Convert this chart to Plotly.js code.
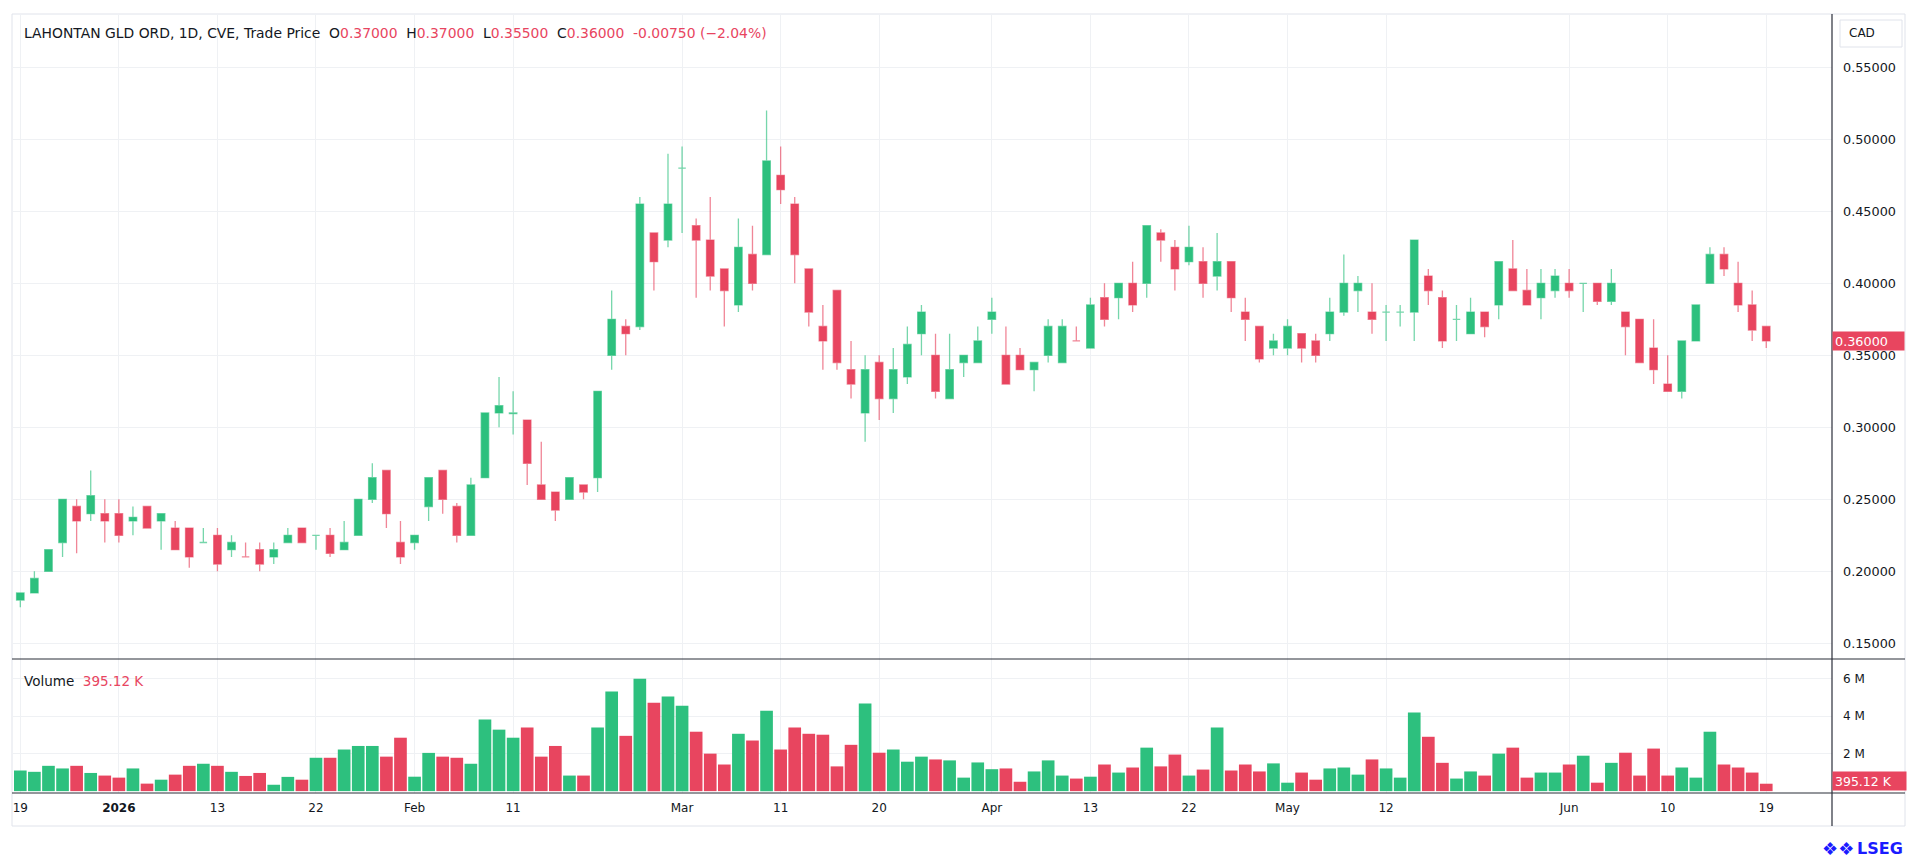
<!DOCTYPE html>
<html><head><meta charset="utf-8">
<script src="https://cdn.plot.ly/plotly-3.0.1.min.js"></script>
<style>html,body{margin:0;padding:0;background:#fff;overflow:hidden}#chart{width:1920px;height:865px}</style>
</head><body><div id="chart"></div>
<script>
const dates = [
 '2025-12-19','2025-12-22','2025-12-23','2025-12-24','2025-12-29','2025-12-30','2025-12-31',
 '2026-01-02','2026-01-05','2026-01-06','2026-01-07','2026-01-08','2026-01-09','2026-01-12','2026-01-13','2026-01-14','2026-01-15','2026-01-16','2026-01-19','2026-01-20','2026-01-21','2026-01-22','2026-01-23','2026-01-26','2026-01-27','2026-01-28','2026-01-29','2026-01-30',
 '2026-02-02','2026-02-03','2026-02-04','2026-02-05','2026-02-06','2026-02-09','2026-02-10','2026-02-11','2026-02-12','2026-02-13','2026-02-17','2026-02-18','2026-02-19','2026-02-20','2026-02-23','2026-02-24','2026-02-25','2026-02-26','2026-02-27',
 '2026-03-02','2026-03-03','2026-03-04','2026-03-05','2026-03-06','2026-03-09','2026-03-10','2026-03-11','2026-03-12','2026-03-13','2026-03-16','2026-03-17','2026-03-18','2026-03-19','2026-03-20','2026-03-23','2026-03-24','2026-03-25','2026-03-26','2026-03-27','2026-03-30','2026-03-31',
 '2026-04-01','2026-04-02','2026-04-06','2026-04-07','2026-04-08','2026-04-09','2026-04-10','2026-04-13','2026-04-14','2026-04-15','2026-04-16','2026-04-17','2026-04-20','2026-04-21','2026-04-22','2026-04-23','2026-04-24','2026-04-27','2026-04-28','2026-04-29','2026-04-30',
 '2026-05-01','2026-05-04','2026-05-05','2026-05-06','2026-05-07','2026-05-08','2026-05-11','2026-05-12','2026-05-13','2026-05-14','2026-05-15','2026-05-19','2026-05-20','2026-05-21','2026-05-22','2026-05-25','2026-05-26','2026-05-27','2026-05-28','2026-05-29',
 '2026-06-01','2026-06-02','2026-06-03','2026-06-04','2026-06-05','2026-06-08','2026-06-09','2026-06-10','2026-06-11','2026-06-12','2026-06-15','2026-06-16','2026-06-17','2026-06-18','2026-06-19'
];
const openP = [
 0.18,0.185,0.20,0.22,0.245,0.24,0.24,
 0.24,0.235,0.245,0.235,0.23,0.23,0.22,0.225,0.215,0.21,0.215,0.21,0.22,0.23,0.225,0.225,0.215,0.225,0.25,0.27,0.22,
 0.22,0.245,0.27,0.245,0.225,0.265,0.31,0.3095,0.305,0.26,0.255,0.25,0.26,0.265,0.35,0.37,0.37,0.435,0.43,
 0.48,0.44,0.43,0.41,0.385,0.42,0.42,0.475,0.455,0.41,0.37,0.395,0.34,0.31,0.345,0.32,0.335,0.365,0.35,0.32,0.345,0.345,
 0.375,0.35,0.35,0.34,0.35,0.345,0.36,0.355,0.39,0.39,0.40,0.40,0.435,0.425,0.415,0.415,0.405,0.415,0.38,0.37,0.355,
 0.355,0.365,0.36,0.365,0.38,0.395,0.38,0.38,0.38,0.38,0.405,0.39,0.375,0.365,0.38,0.385,0.41,0.395,0.39,0.395,
 0.40,0.40,0.40,0.3875,0.38,0.375,0.355,0.33,0.325,0.36,0.40,0.42,0.40,0.385,0.37
];
const highP = [
 0.185,0.20,0.215,0.25,0.25,0.27,0.25,
 0.25,0.245,0.245,0.24,0.235,0.23,0.23,0.23,0.225,0.22,0.22,0.22,0.23,0.23,0.225,0.23,0.235,0.25,0.275,0.27,0.235,
 0.225,0.265,0.27,0.2475,0.265,0.31,0.335,0.325,0.305,0.29,0.255,0.265,0.26,0.325,0.395,0.375,0.46,0.435,0.49,
 0.495,0.445,0.46,0.41,0.445,0.44,0.52,0.495,0.46,0.41,0.385,0.395,0.36,0.35,0.35,0.355,0.37,0.385,0.365,0.365,0.35,0.37,
 0.39,0.37,0.355,0.345,0.375,0.375,0.37,0.39,0.40,0.40,0.415,0.44,0.4375,0.43,0.44,0.425,0.435,0.415,0.39,0.37,0.365,
 0.375,0.365,0.365,0.39,0.42,0.405,0.40,0.385,0.385,0.43,0.41,0.395,0.385,0.39,0.38,0.415,0.43,0.41,0.41,0.41,
 0.41,0.40,0.40,0.41,0.38,0.375,0.375,0.35,0.36,0.385,0.425,0.425,0.415,0.395,0.37
];
const lowP = [
 0.175,0.185,0.20,0.21,0.2125,0.235,0.22,
 0.22,0.225,0.23,0.215,0.215,0.2025,0.22,0.20,0.21,0.21,0.20,0.205,0.22,0.22,0.215,0.21,0.215,0.225,0.2475,0.23,0.205,
 0.215,0.235,0.24,0.22,0.225,0.265,0.30,0.295,0.26,0.25,0.235,0.25,0.25,0.255,0.34,0.35,0.3675,0.395,0.425,
 0.435,0.39,0.395,0.37,0.38,0.395,0.42,0.455,0.40,0.37,0.34,0.34,0.32,0.29,0.305,0.31,0.33,0.35,0.32,0.32,0.335,0.345,
 0.365,0.33,0.34,0.325,0.345,0.345,0.36,0.355,0.37,0.375,0.38,0.39,0.415,0.395,0.4125,0.39,0.395,0.38,0.36,0.345,0.35,
 0.35,0.345,0.345,0.36,0.3775,0.38,0.365,0.36,0.37,0.36,0.385,0.355,0.36,0.365,0.3625,0.375,0.395,0.385,0.375,0.39,
 0.39,0.38,0.385,0.385,0.35,0.345,0.33,0.325,0.32,0.36,0.40,0.405,0.38,0.36,0.355
];
const closeP = [
 0.185,0.195,0.215,0.25,0.235,0.2525,0.235,
 0.225,0.2375,0.23,0.24,0.215,0.21,0.22,0.205,0.22,0.21,0.205,0.215,0.225,0.22,0.225,0.2125,0.22,0.25,0.265,0.24,0.21,
 0.225,0.265,0.25,0.225,0.26,0.31,0.315,0.31,0.275,0.25,0.2425,0.265,0.255,0.325,0.375,0.365,0.455,0.415,0.455,
 0.48,0.43,0.405,0.395,0.425,0.40,0.485,0.465,0.42,0.38,0.36,0.345,0.33,0.34,0.32,0.34,0.3575,0.38,0.325,0.34,0.35,0.36,
 0.38,0.33,0.34,0.345,0.37,0.37,0.36,0.385,0.375,0.40,0.385,0.44,0.43,0.41,0.425,0.40,0.415,0.39,0.375,0.3475,0.36,
 0.37,0.355,0.35,0.38,0.40,0.40,0.375,0.38,0.38,0.43,0.395,0.36,0.375,0.38,0.37,0.415,0.395,0.385,0.40,0.405,
 0.395,0.40,0.3875,0.40,0.37,0.345,0.34,0.325,0.36,0.385,0.42,0.41,0.385,0.3675,0.36
];
// volume in millions of shares
const volumeM = [
 1.10,1.03,1.35,1.21,1.35,0.97,0.83,
 0.72,1.21,0.40,0.61,0.88,1.35,1.46,1.35,1.03,0.81,0.97,0.34,0.76,0.61,1.78,1.78,2.22,2.41,2.41,1.84,2.85,
 0.77,2.04,1.84,1.78,1.46,3.82,3.28,2.85,3.39,1.84,2.41,0.83,0.83,3.39,5.32,2.95,6.00,4.72,5.05,
 4.56,3.17,2.00,1.42,3.06,2.70,4.29,2.22,3.39,3.06,3.01,1.32,2.47,4.67,2.05,2.22,1.57,1.84,1.69,1.64,0.72,1.53,
 1.17,1.21,0.50,1.05,1.64,0.83,0.67,0.77,1.42,0.99,1.26,2.32,1.32,1.95,0.83,1.15,3.39,1.10,1.42,1.05,1.48,
 0.45,0.99,0.61,1.21,1.26,0.88,1.69,1.21,0.72,4.20,2.90,1.51,0.67,1.05,0.83,2.00,2.32,0.72,0.99,0.99,
 1.42,1.89,0.45,1.51,2.05,0.83,2.27,0.83,1.26,0.72,3.17,1.42,1.26,0.99,0.39512
];
const tickDates = ['2025-12-19','2026-01-02','2026-01-13','2026-01-22','2026-02-02','2026-02-11','2026-03-02','2026-03-11','2026-03-20','2026-04-01','2026-04-13','2026-04-22','2026-05-01','2026-05-12','2026-06-01','2026-06-10','2026-06-19'];
const tickLabels = ['19','<b>2026</b>','13','22','Feb','11','Mar','11','20','Apr','13','22','May','12','Jun','10','19'];
const priceTicks = [0.15,0.20,0.25,0.30,0.35,0.40,0.45,0.50,0.55];
const volTicks = [2,4,6];
const volTickLabels = ['2 M','4 M','6 M'];
const lastPrice = 0.36;
const lastVolume = '395.12 K';

const GREEN = '#2DC07E', RED = '#E8455F';
const GREEN_L = 'rgba(45,192,126,0.65)', RED_L = 'rgba(232,69,95,0.65)';
const TXT = '#131722', GRID = '#eff1f4';
const FONT = '"DejaVu Sans", sans-serif';

// direction per bar (same rule as the candlestick trace)
const volColors = [];
let inc = true, cPrev = null;
for (let i = 0; i < closeP.length; i++) {
  if (closeP[i] === openP[i]) { if (cPrev !== null && closeP[i] !== cPrev) inc = closeP[i] > cPrev; }
  else inc = closeP[i] > openP[i];
  cPrev = closeP[i];
  volColors.push(inc ? GREEN : RED);
}

const traces = [
  {type:'candlestick', x:dates, open:openP, high:highP, low:lowP, close:closeP, xaxis:'x', yaxis:'y',
   increasing:{line:{color:GREEN_L, width:1.3}, fillcolor:GREEN},
   decreasing:{line:{color:RED_L, width:1.3}, fillcolor:RED},
   whiskerwidth:0, hoverinfo:'skip', showlegend:false},
  {type:'bar', x:dates, y:volumeM, xaxis:'x', yaxis:'y2', marker:{color:volColors, line:{width:0}}, hoverinfo:'skip', showlegend:false}
];

// pixel helpers (plot area: x 12..1832, y 15..793)
const L = 12, R = 1832, T = 15, B = 793;
const px = x => (x - L) / (R - L);
const py = y => (B - y) / (B - T);
const sepY = py(659);
const red = s => '<span style="color:' + RED + '">' + s + '</span>';
const sp = '\u00a0\u00a0';

const layout = {
  width:1920, height:865, margin:{l:L, r:1920-R, t:T, b:865-B, pad:0},
  paper_bgcolor:'#fff', plot_bgcolor:'#fff',
  font:{family:FONT, size:12, color:TXT},
  boxgap:0.24, bargap:0.1, showlegend:false, dragmode:false,
  xaxis:{type:'category', anchor:'y2', domain:[0,1], range:[-0.59,128.67], rangeslider:{visible:false},
    tickmode:'array', tickvals:tickDates, ticktext:tickLabels, ticks:'', showgrid:true, gridcolor:GRID, gridwidth:1,
    zeroline:false, showline:false, tickfont:{family:FONT, size:12, color:TXT}, ticklabelstandoff:6, fixedrange:true},
  yaxis:{domain:[sepY,1], anchor:'x', side:'right', range:[0.1391,0.5863], tickmode:'array', tickvals:priceTicks,
    tickformat:'.5f', ticks:'', showgrid:true, gridcolor:GRID, zeroline:false, showline:false,
    tickfont:{family:FONT, size:12.8, color:TXT}, ticklabelstandoff:10, fixedrange:true},
  yaxis2:{domain:[0,sepY], anchor:'x', side:'right', range:[-0.1,7.05], tickmode:'array', tickvals:volTicks, ticktext:volTickLabels,
    ticks:'', showgrid:true, gridcolor:GRID, zeroline:false, showline:false,
    tickfont:{family:FONT, size:12, color:TXT}, ticklabelstandoff:10, fixedrange:true},
  shapes:[
    {type:'rect', xref:'paper', yref:'paper', x0:0, x1:px(1905), y0:py(826), y1:py(14), line:{color:'#e0e3eb', width:1}, fillcolor:'rgba(0,0,0,0)', layer:'below'},
    {type:'line', xref:'paper', yref:'paper', x0:0, x1:px(1905), y0:sepY, y1:sepY, line:{color:'#2a2e39', width:1.2}},
    {type:'line', xref:'paper', yref:'paper', x0:0, x1:px(1905), y0:0, y1:0, line:{color:'#2a2e39', width:1.2}},
    {type:'line', xref:'paper', yref:'paper', x0:1, x1:1, y0:py(826), y1:py(14), line:{color:'#2a2e39', width:1.2}},
    {type:'rect', xref:'paper', yref:'paper', x0:px(1840), x1:px(1902), y0:py(47), y1:py(20), line:{color:'#e0e3eb', width:1}, fillcolor:'#fff'}
  ],
  annotations:[
    {xref:'paper', yref:'paper', x:px(22), y:py(33), xanchor:'left', yanchor:'middle', showarrow:false,
     font:{family:FONT, size:13.9, color:TXT},
     text:'LAHONTAN GLD ORD, 1D, CVE, Trade Price' + sp + 'O' + red('0.37000') + sp + 'H' + red('0.37000') + sp + 'L' + red('0.35500') + sp + 'C' + red('0.36000') + sp + red('-0.00750 (\u22122.04%)')},
    {xref:'paper', yref:'paper', x:px(22), y:py(681), xanchor:'left', yanchor:'middle', showarrow:false,
     font:{family:FONT, size:13.5, color:TXT},
     text:'Volume' + sp + red(lastVolume)},
    {xref:'paper', yref:'paper', x:px(1862), y:py(33.5), xanchor:'center', yanchor:'middle', showarrow:false,
     font:{family:FONT, size:12, color:TXT}, text:'CAD'},
    {xref:'paper', yref:'y', x:1, y:lastPrice, xanchor:'left', yanchor:'middle', showarrow:false, bgcolor:RED,
     width:67, height:14, borderpad:2, align:'left', font:{family:FONT, size:12.8, color:'#fff'},
     text:lastPrice.toFixed(5)},
    {xref:'paper', yref:'paper', x:1, y:py(781), xanchor:'left', yanchor:'middle', showarrow:false, bgcolor:RED,
     width:69, height:14, borderpad:2, align:'left', font:{family:FONT, size:12.5, color:'#fff'},
     text:lastVolume},
    {xref:'paper', yref:'paper', x:px(1905), y:py(848), xanchor:'right', yanchor:'middle', showarrow:false,
     font:{family:FONT, size:16, color:'#1a1aff'}, text:'<b>LSEG</b>'},
    {xref:'paper', yref:'paper', x:px(1856), y:py(848), xanchor:'right', yanchor:'middle', showarrow:false,
     font:{family:FONT, size:18, color:'#1a1aff'}, text:'\u2756\u2756'}
  ]
};

Plotly.newPlot('chart', traces, layout, {displayModeBar:false, staticPlot:true, responsive:false});
</script>
</body></html>
